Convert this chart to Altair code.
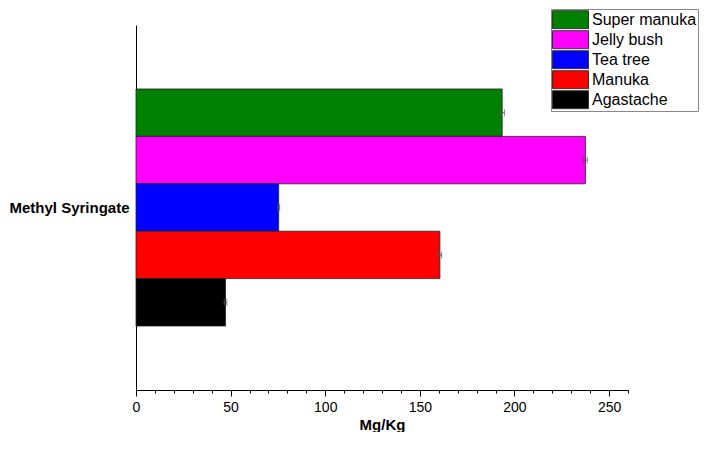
import altair as alt
import pandas as pd

compound = ["Methyl Syringate"] * 5
series = ["Super manuka", "Jelly bush", "Tea tree", "Manuka", "Agastache"]
values = [193.5, 237.5, 75.4, 160.6, 47.3]
errors = [1.2, 1.0, 0.5, 0.9, 0.7]
colors = ["#008000", "#ff00ff", "#0000ff", "#ff0000", "#000000"]
major_ticks = list(range(0, 251, 50))
minor_ticks = list(range(0, 261, 10))

df = pd.DataFrame({"compound": compound, "series": series, "value": values, "err": errors})
df["lo"] = df["value"] - df["err"]
df["hi"] = df["value"] + df["err"]

FONT = "Liberation Sans"

xscale = alt.Scale(domain=[0, 260], nice=False, zero=True)
xaxis_major = alt.Axis(
    title="Mg/Kg",
    orient="bottom",
    values=major_ticks,
    tickSize=6,
    labelPadding=4,
    labelFontSize=14,
    labelFont=FONT,
    labelColor="black",
    labelOverlap=False,
    labelFlush=False,
    titleFont=FONT,
    titleFontSize=15,
    titleFontWeight="bold",
    titleColor="black",
    titlePadding=3,
    domainColor="black",
    tickColor="black",
    grid=False,
)
xaxis_minor = alt.Axis(
    title=None,
    orient="bottom",
    values=minor_ticks,
    tickSize=3,
    labels=False,
    domain=False,
    tickColor="black",
    grid=False,
)
yscale = alt.Scale(paddingInner=0, paddingOuter=0.27)
yaxis = alt.Axis(
    title=None,
    ticks=False,
    labelPadding=7,
    labelFontSize=15,
    labelFontWeight="bold",
    labelFont=FONT,
    labelColor="black",
    domainColor="black",
    grid=False,
)
yoff = alt.YOffset("series:N", sort=series, scale=alt.Scale(paddingInner=0, paddingOuter=0))

base = alt.Chart(df)

bars = base.mark_bar(stroke="#222", strokeWidth=0.8).encode(
    x=alt.X("value:Q", scale=xscale, axis=xaxis_major),
    y=alt.Y("compound:N", scale=yscale, axis=yaxis),
    yOffset=yoff,
    color=alt.Color(
        "series:N",
        sort=series,
        scale=alt.Scale(domain=series, range=colors),
        legend=alt.Legend(
            title=None,
            orient="none",
            legendX=415,
            legendY=-16,
            symbolType="M-1,-1H3V1H-1Z",
            symbolSize=324,
            symbolStrokeColor="#333",
            symbolStrokeWidth=1,
            symbolOpacity=1,
            labelOffset=21,
            labelFontSize=16,
            labelFont=FONT,
            labelColor="black",
            labelLimit=200,
            strokeColor="#888",
            fillColor="white",
            padding=1,
            clipHeight=19.5,
            rowPadding=0,
        ),
    ),
)

rule = base.mark_rule(color="#555", strokeWidth=1).encode(
    x=alt.X("lo:Q", scale=xscale, axis=xaxis_minor),
    x2="hi:Q",
    y=alt.Y("compound:N", scale=yscale, axis=yaxis),
    yOffset=yoff,
)
cap_lo = base.mark_tick(color="#555", thickness=1, size=7).encode(
    x=alt.X("lo:Q", scale=xscale, axis=None),
    y=alt.Y("compound:N", scale=yscale, axis=yaxis),
    yOffset=yoff,
)
cap_hi = base.mark_tick(color="#555", thickness=1, size=7).encode(
    x=alt.X("hi:Q", scale=xscale, axis=None),
    y=alt.Y("compound:N", scale=yscale, axis=yaxis),
    yOffset=yoff,
)

chart = (
    alt.layer(bars, rule, cap_lo, cap_hi)
    .resolve_axis(x="independent")
    .properties(
        width=492,
        height=365,
        background="white",
        padding={"left": 0, "top": 0, "right": 0, "bottom": 0},
    )
    .configure_view(stroke=None)
)

chart.save("out.html", embed_options={"renderer": "svg", "actions": False})
